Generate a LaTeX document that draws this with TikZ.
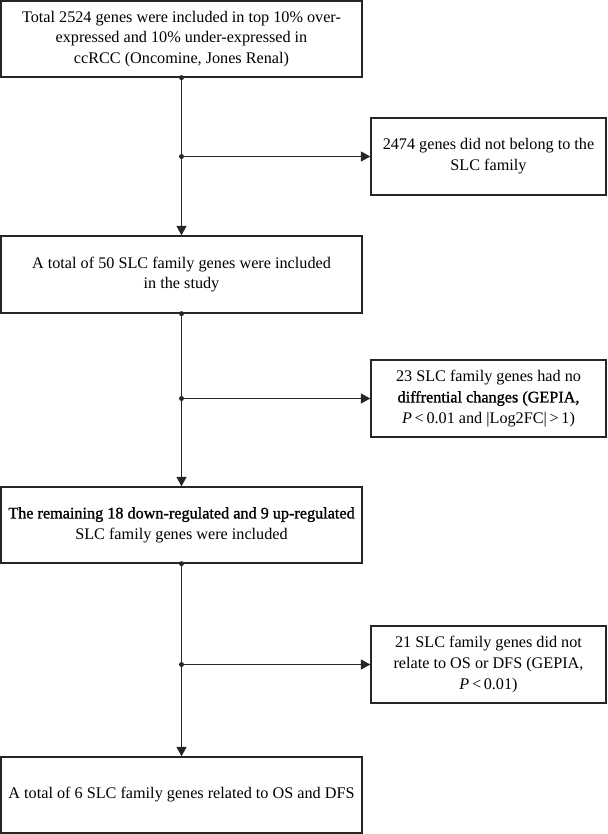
\documentclass[tikz,border=0pt]{standalone}
\usepackage{fontspec}
\setmainfont{Liberation Serif}
\newfontfamily\semib[FakeBold=1.2]{Liberation Serif}
\usetikzlibrary{arrows.meta}
\begin{document}
\begin{tikzpicture}[x=1pt,y=-1pt,
  box/.style={draw=black!85, line width=1.3pt, align=center, inner sep=0pt,
    font=\fontsize{16.2}{20.8}\selectfont},
  mainbox/.style={box, minimum width=361pt},
  sidebox/.style={box, minimum width=235pt, minimum height=77pt},
  ln/.style={line width=1.3pt, draw=black!85},
  arr/.style={ln, -{Triangle[length=9.5pt,width=10pt]}},
  jdot/.style={circle, fill=black!85, inner sep=0pt, minimum size=5pt}]
\useasboundingbox (0,0) rectangle (607,834);
% main boxes
\node[mainbox, minimum height=76pt] (b1) at (181.5,39)
  {Total 2524 genes were included in top 10\% over-\\expressed and 10\% under-expressed in\\ccRCC (Oncomine, Jones Renal)};
\node[mainbox, minimum height=77pt] (b2) at (181.5,274.5)
  {A total of 50 SLC family genes were included\\in the study};
\node[mainbox, minimum height=76pt] (b3) at (181.5,525)
  {{\semib The remaining 18 down-regulated and 9 up-regulated}\\SLC family genes were included};
\node[mainbox, minimum height=76pt] (b4) at (181.5,795)
  {A total of 6 SLC family genes related to OS and DFS};
% side boxes
\node[sidebox] (s1) at (488.5,156.5)
  {2474 genes did not belong to the\\SLC family};
\node[sidebox] (s2) at (488.5,398.5)
  {23 SLC family genes had no\\{\semib diffrential changes (GEPIA,}\\\textit{P}\,<\,0.01 and |Log2FC|\,>\,1)};
\node[sidebox] (s3) at (488.5,664.5)
  {21 SLC family genes did not\\relate to OS or DFS (GEPIA,\\\textit{P}\,<\,0.01)};
% junctions
\coordinate (j1) at (b1.south |- s1.west);
\coordinate (j2) at (b2.south |- s2.west);
\coordinate (j3) at (b3.south |- s3.west);
% connectors
\draw[ln] (b1.south) -- (j1);
\draw[arr] (j1) -- (b2.north);
\draw[arr] (j1) -- (s1.west);
\draw[ln] (b2.south) -- (j2);
\draw[arr] (j2) -- (b3.north);
\draw[arr] (j2) -- (s2.west);
\draw[ln] (b3.south) -- (j3);
\draw[arr] (j3) -- (b4.north);
\draw[arr] (j3) -- (s3.west);
% dots
\node[jdot] (d1) at (b1.south) {};
\node[jdot] (d2) at (b2.south) {};
\node[jdot] (d3) at (b3.south) {};
\node[jdot] (e1) at (j1) {};
\node[jdot] (e2) at (j2) {};
\node[jdot] (e3) at (j3) {};
\end{tikzpicture}
\end{document}
